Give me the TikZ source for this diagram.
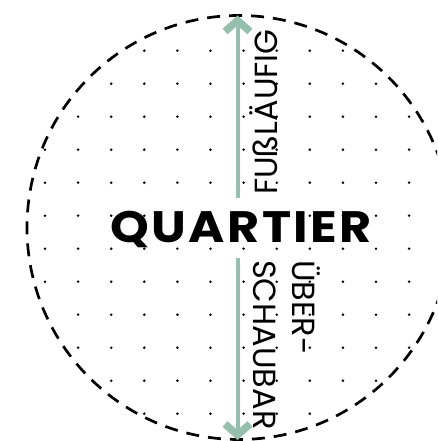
\documentclass[tikz,border=0pt]{standalone}
\usepackage{fontspec}
\setmainfont{Poppins}
\usetikzlibrary{arrows.meta}
\definecolor{sage}{HTML}{95BFAE}

\begin{document}
\begin{tikzpicture}[
    x=1pt, y=1pt,
    >={Straight Barb[length=11pt,width=25pt,line width=7.5pt]}, % chevron tips
    walkarrow/.style={->, sage, line width=4pt},
    vlabel/.style={font=\fontsize{32}{38}\selectfont, inner sep=0pt}
]
    \useasboundingbox (0,0) rectangle (437,441);
    \clip (0,0) rectangle (437,441);

    % Quarter outline
    \coordinate (centre) at (239,213.5);
    \draw[line width=2.7pt, dash pattern=on 13pt off 9pt] (centre) circle (212);

    % Dot grid inside the circle
    \begin{scope}
        \clip (centre) circle (211);
        \foreach \i in {0,...,11}
            \foreach \j in {0,...,11}
                \fill (45+33.1*\i, 390.3-33*\j) circle (1.4);
    \end{scope}

    % Arrows up and down
    \coordinate (upstart) at (237.5,243);
    \coordinate (uptip) at (237.5,425.5);
    \coordinate (downstart) at (237.5,183);
    \coordinate (downtip) at (237.5,1);
    \draw[walkarrow] (upstart) -- (uptip);
    \draw[walkarrow] (downstart) -- (downtip);

    % Title
    \node[font=\fontsize{44}{44}\selectfont\bfseries\addfontfeature{LetterSpace=5}, xscale=1.12, inner sep=0pt, anchor=base] (quartier) at (241,198) {QUARTIER};

    % Side labels
    \node[vlabel, rotate=90, anchor=base west] (fuss) at (277,246) {FUßLÄUFIG};
    \node[vlabel, rotate=-90, anchor=base west] (ueber) at (292,181) {ÜBER-};
    \node[vlabel, rotate=-90, anchor=base west] (schaubar) at (253,181) {SCHAUBAR};

\end{tikzpicture}
\end{document}
